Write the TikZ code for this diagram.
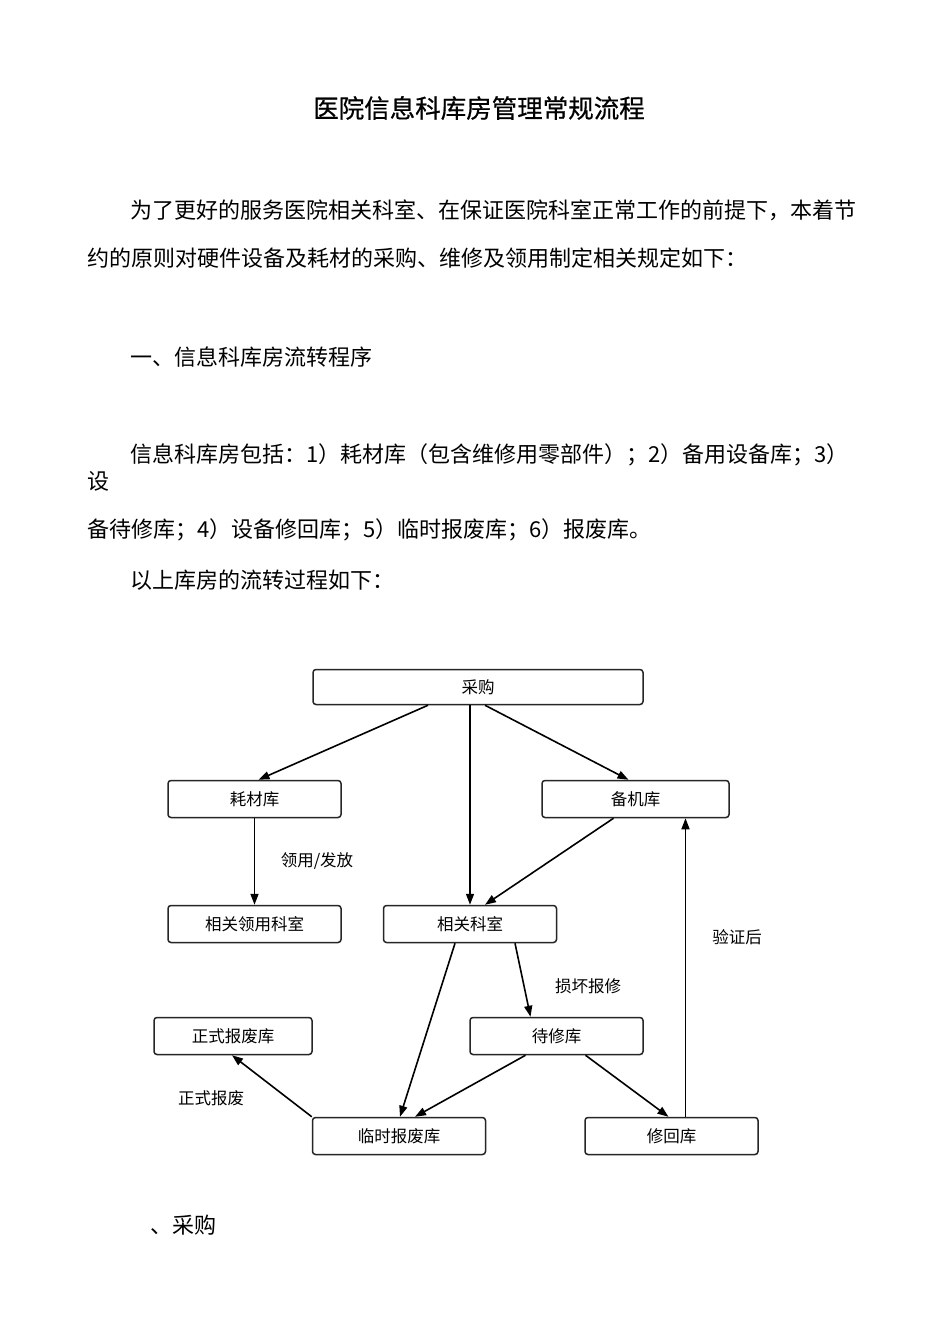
\documentclass[tikz,border=0pt]{standalone}
\usepackage{fontspec}
\setmainfont{Noto Sans CJK SC}
\newfontfamily\titlefont[FakeBold=0.6]{Noto Sans CJK SC}
\usetikzlibrary{arrows.meta}
\begin{document}
\begin{tikzpicture}[x=1pt,y=-1pt,
  box/.style={draw=black!85,line width=1.5pt,rounded corners=3pt,inner sep=0pt,
    minimum height=37pt,font=\fontsize{16.5}{16.5}\selectfont},
  arr/.style={line width=1.6pt,-{Triangle[length=11pt,width=8pt]}},
  lbl/.style={inner sep=0pt,font=\fontsize{16.5}{16.5}\selectfont},
  body/.style={inner sep=0pt,anchor=west,font=\fontsize{22}{22}\selectfont},
]
\useasboundingbox[fill=white] (0,0) rectangle (950,1344);

\node[inner sep=0pt,font=\titlefont\fontsize{25.5}{25.5}\selectfont] (title) at (479,108) {医院信息科库房管理常规流程};
\node[body] (p1) at (130,210) {为了更好的服务医院相关科室、在保证医院科室正常工作的前提下，本着节};
\node[body] (p2) at (87,258) {约的原则对硬件设备及耗材的采购、维修及领用制定相关规定如下：};
\node[body] (h1) at (130,357) {一、信息科库房流转程序};
\node[body] (p3) at (130,455) {信息科库房包括：1）耗材库（包含维修用零部件）；2）备用设备库；3）};
\node[body] (p3b) at (87,481) {设};
\node[body] (p4) at (87,530) {备待修库；4）设备修回库；5）临时报废库；6）报废库。};
\node[body] (p5) at (130,580) {以上库房的流转过程如下：};
\node[body] (h2) at (150,1225) {、采购};

% boxes
\node[box,minimum width=330pt,minimum height=35pt] (cg) at (478,687) {采购};
\node[box,minimum width=173pt] (hc) at (254.5,799) {耗材库};
\node[box,minimum width=187pt] (bj) at (635.5,799) {备机库};
\node[box,minimum width=173pt] (xgly) at (254.5,924) {相关领用科室};
\node[box,minimum width=173pt] (xgks) at (470,924) {相关科室};
\node[box,minimum width=158pt] (zsbf) at (233,1036) {正式报废库};
\node[box,minimum width=173pt] (dx) at (556.5,1036) {待修库};
\node[box,minimum width=173pt] (lsbf) at (399,1136) {临时报废库};
\node[box,minimum width=173pt] (xh) at (671.5,1136) {修回库};

% arrows
\draw[arr] ([xshift=-50pt]cg.south) -- ([xshift=4pt]hc.north);
\draw[arr] ([xshift=-8pt]cg.south) -- ([xshift=0pt]xgks.north);
\draw[arr] ([xshift=7pt]cg.south) -- ([xshift=-7pt]bj.north);
\draw[arr] (hc.south) -- (xgly.north);
\draw[arr] ([xshift=-22pt]bj.south) -- ([xshift=15pt]xgks.north);
\draw[arr] ([xshift=-15pt]xgks.south) -- ([xshift=1pt]lsbf.north);
\draw[arr] ([xshift=45pt]xgks.south) -- ([xshift=-26pt]dx.north);
\draw[arr] ([xshift=-31pt]dx.south) -- ([xshift=16pt]lsbf.north);
\draw[arr] ([xshift=29pt]dx.south) -- ([xshift=-3pt]xh.north);
\draw[arr] (lsbf.north west) -- ([xshift=-1pt]zsbf.south);
\draw[arr] ([xshift=14pt]xh.north) -- ([xshift=50pt]bj.south);

% labels
\node[lbl] (l1) at (317,861) {领用/发放};
\node[lbl] (l2) at (588,986) {损坏报修};
\node[lbl] (l3) at (211,1098) {正式报废};
\node[lbl] (l4) at (737,937) {验证后};
\end{tikzpicture}
\end{document}
